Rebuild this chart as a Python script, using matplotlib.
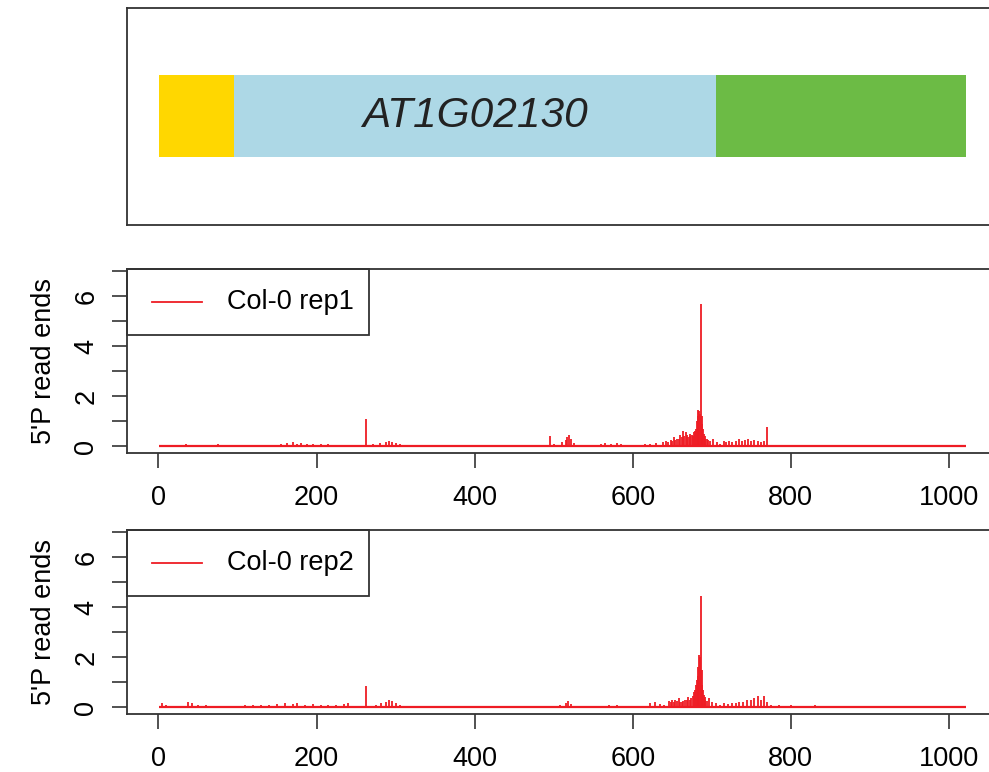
import matplotlib

matplotlib.use("Agg")
import matplotlib.pyplot as plt
from matplotlib.patches import Rectangle

plt.rcParams["font.family"] = ["Liberation Sans", "DejaVu Sans"]

# gene model (nt coordinates)
gene_name = "AT1G02130"
utr5 = (1, 95)
cds = (95, 705)
utr3 = (705, 1021)
seg_colors = ["#ffd700", "#add8e6", "#6cbb45"]

# 5'P read ends per position, replicate 1
rep1_pos = [5, 28, 35, 45, 60, 75, 110, 130, 155, 162, 170, 175, 180, 188, 195, 205,
            215, 225, 240, 262, 272, 280, 288, 292, 296, 300, 305, 320, 340, 360, 385,
            400, 420, 445, 462, 478, 495, 500, 510, 515, 517, 519, 522, 526, 545, 560,
            565, 572, 580, 585, 595, 605, 615, 622, 630, 638, 642, 645, 648, 650, 652,
            654, 656, 658, 660, 662, 664, 665, 667, 668, 670, 672, 673, 675, 676, 678,
            679, 680, 681, 682, 683, 684, 685, 686, 687, 688, 689, 690, 691, 692, 694,
            695, 698, 702, 706, 710, 715, 718, 722, 726, 730, 734, 738, 742, 746, 750,
            754, 758, 762, 766, 770, 790, 800, 815, 860, 940]
rep1_val = [0.06, 0.05, 0.08, 0.06, 0.05, 0.07, 0.05, 0.06, 0.10, 0.12, 0.15, 0.10, 0.12,
            0.08, 0.10, 0.08, 0.10, 0.06, 0.05, 1.07, 0.10, 0.12, 0.15, 0.20, 0.18, 0.12,
            0.08, 0.05, 0.05, 0.05, 0.05, 0.05, 0.05, 0.05, 0.06, 0.05, 0.41, 0.08, 0.15,
            0.25, 0.35, 0.44, 0.30, 0.12, 0.05, 0.10, 0.12, 0.10, 0.14, 0.08, 0.05, 0.05,
            0.08, 0.10, 0.12, 0.15, 0.20, 0.15, 0.25, 0.20, 0.35, 0.25, 0.30, 0.28, 0.45,
            0.35, 0.60, 0.40, 0.55, 0.45, 0.35, 0.40, 0.50, 0.45, 0.40, 0.55, 0.60, 0.70,
            1.00, 1.20, 1.44, 1.40, 1.30, 5.71, 1.20, 0.90, 0.70, 0.50, 0.40, 0.30, 0.28,
            0.25, 0.20, 0.30, 0.15, 0.10, 0.20, 0.15, 0.20, 0.18, 0.22, 0.28, 0.20, 0.25,
            0.30, 0.20, 0.25, 0.22, 0.18, 0.20, 0.77, 0.05, 0.06, 0.04, 0.03, 0.03]

# replicate 2
rep2_pos = [5, 10, 38, 42, 50, 60, 75, 90, 110, 120, 130, 140, 150, 160, 170, 175, 185,
            195, 205, 215, 225, 235, 240, 250, 262, 275, 282, 288, 292, 296, 300, 305,
            345, 380, 400, 410, 430, 460, 475, 508, 515, 518, 522, 560, 570, 580, 590,
            622, 628, 634, 640, 646, 648, 650, 652, 654, 656, 658, 660, 662, 664, 666,
            668, 670, 672, 674, 676, 678, 679, 680, 681, 682, 683, 684, 685, 686, 687,
            688, 689, 690, 691, 692, 694, 696, 700, 705, 710, 715, 720, 725, 730, 735,
            740, 745, 750, 754, 758, 762, 766, 770, 775, 785, 800, 808, 820, 830, 845,
            870, 970]
rep2_val = [0.15, 0.08, 0.20, 0.15, 0.10, 0.08, 0.06, 0.05, 0.08, 0.08, 0.10, 0.10, 0.12,
            0.15, 0.12, 0.15, 0.10, 0.12, 0.10, 0.08, 0.10, 0.12, 0.15, 0.05, 0.85, 0.10,
            0.15, 0.20, 0.30, 0.25, 0.18, 0.10, 0.05, 0.05, 0.06, 0.05, 0.04, 0.05, 0.05,
            0.10, 0.15, 0.25, 0.12, 0.06, 0.08, 0.07, 0.06, 0.15, 0.20, 0.12, 0.10, 0.25,
            0.20, 0.30, 0.22, 0.28, 0.25, 0.35, 0.20, 0.20, 0.25, 0.30, 0.28, 0.40, 0.30,
            0.35, 0.45, 0.60, 0.70, 0.90, 1.10, 1.25, 1.60, 2.08, 2.00, 4.45, 1.50, 0.90,
            0.70, 0.50, 0.40, 0.30, 0.25, 0.35, 0.20, 0.15, 0.10, 0.15, 0.12, 0.18, 0.15,
            0.20, 0.22, 0.30, 0.28, 0.35, 0.45, 0.30, 0.45, 0.20, 0.10, 0.08, 0.10, 0.06,
            0.05, 0.08, 0.04, 0.04, 0.04]

labels = ["Col-0 rep1", "Col-0 rep2"]
x_ticks = [0, 200, 400, 600, 800, 1000]
xlim = (-39.8, 1060.8)
ylim = (-0.28, 7.1)

W, H = 989, 772
FS = 19.5
EDGE = "#333333"
RED = "#ee1c24"


def px_axes(fig, left, top, right, bottom):
    return fig.add_axes([left / W, 1 - bottom / H, (right - left) / W, (bottom - top) / H])


fig = plt.figure(figsize=(W / 100, H / 100), dpi=100)

# gene model panel
ax0 = px_axes(fig, 127, 8, 997, 225)
ax0.set_xlim(xlim)
ax0.set_ylim(0, 1)
for (a, b), c in zip([utr5, cds, utr3], seg_colors):
    ax0.add_patch(Rectangle((a, 0.313), b - a, 0.378, color=c, lw=0))
ax0.text(401, 0.50, gene_name, ha="center", va="center", style="italic",
         fontsize=30.5, color="#222222")
ax0.set_xticks([])
ax0.set_yticks([])
for s in ax0.spines.values():
    s.set_color(EDGE)
    s.set_linewidth(1.3)

panels = [(rep1_pos, rep1_val, labels[0], 269, 453),
          (rep2_pos, rep2_val, labels[1], 530, 714)]
for pos, val, lab, top, bottom in panels:
    ax = px_axes(fig, 127, top, 997, bottom)
    ax.plot([utr5[0], utr3[1]], [0, 0], color=RED, lw=1.6, solid_capstyle="butt")
    ax.vlines(pos, 0, val, color=RED, lw=1.3)
    ax.set_xlim(xlim)
    ax.set_ylim(ylim)
    ax.set_xticks(x_ticks)
    ax.set_xticklabels([str(t) for t in x_ticks], fontsize=FS)
    ax.set_yticks(range(8))
    ax.set_yticklabels(["0", "", "2", "", "4", "", "6", ""], fontsize=FS,
                       rotation=90, va="center")
    ax.tick_params(length=11, width=1.2, color=EDGE, pad=9)
    ax.tick_params(axis="x", pad=12)
    ax.set_ylabel("5'P read ends", fontsize=FS, labelpad=12)
    for s in ax.spines.values():
        s.set_color(EDGE)
        s.set_linewidth(1.3)

    # legend box in the top-left corner
    ax.add_patch(Rectangle((0, 0.641), 0.278, 0.359, transform=ax.transAxes,
                           fill=False, ec=EDGE, lw=1.3, clip_on=False))
    ax.plot([0.029, 0.086], [0.821, 0.821], transform=ax.transAxes, color=RED, lw=1.3)
    ax.text(0.115, 0.821, lab, transform=ax.transAxes, fontsize=FS, va="center")

fig.savefig("out.png", dpi=100)
